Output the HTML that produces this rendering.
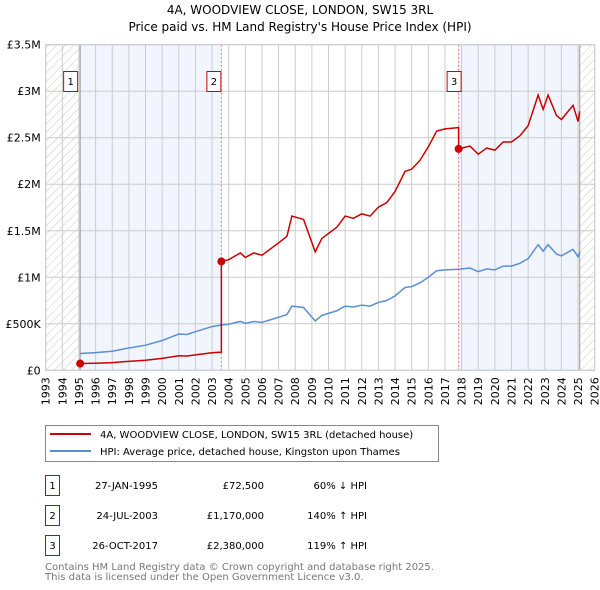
<!DOCTYPE html>
<html><head><meta charset="utf-8"><style>
body{margin:0;background:#fff;font-family:"DejaVu Sans","Liberation Sans",sans-serif;}
svg{display:block}
</style></head><body>
<svg id="c" width="600" height="590" xmlns="http://www.w3.org/2000/svg" font-family="DejaVu Sans, Liberation Sans, sans-serif">
<defs>
<pattern id="hatch" patternUnits="userSpaceOnUse" width="6" height="6" patternTransform="rotate(45)">
<line x1="0" y1="0" x2="0" y2="6" stroke="#bbb" stroke-width="0.8"/>
</pattern>
</defs>
<text x="300" y="14" text-anchor="middle" font-size="12">4A, WOODVIEW CLOSE, LONDON, SW15 3RL</text>
<text x="300" y="31" text-anchor="middle" font-size="12">Price paid vs. HM Land Registry's House Price Index (HPI)</text>
<g id="plot"></g>
<g>
<rect x="45.5" y="425.5" width="393" height="36" fill="#fff" stroke="#888"/>
<line x1="50" y1="434" x2="91" y2="434" stroke="#cc0000" stroke-width="2"/>
<text x="100" y="438" font-size="10">4A, WOODVIEW CLOSE, LONDON, SW15 3RL (detached house)</text>
<line x1="50" y1="451" x2="91" y2="451" stroke="#5b8fd4" stroke-width="2"/>
<text x="100" y="455" font-size="10">HPI: Average price, detached house, Kingston upon Thames</text>
</g>
<g font-size="10">
<rect x="45.5" y="475.5" width="14" height="20" fill="#fff" stroke="#cc0000"/><text x="52.5" y="489" text-anchor="middle">1</text>
<text x="158" y="489" text-anchor="end">27-JAN-1995</text><text x="264" y="489" text-anchor="end">£72,500</text><text x="367" y="489" text-anchor="end">60% ↓ HPI</text>
<rect x="45.5" y="505.5" width="14" height="20" fill="#fff" stroke="#cc0000"/><text x="52.5" y="519" text-anchor="middle">2</text>
<text x="158" y="519" text-anchor="end">24-JUL-2003</text><text x="264" y="519" text-anchor="end">£1,170,000</text><text x="367" y="519" text-anchor="end">140% ↑ HPI</text>
<rect x="45.5" y="535.5" width="14" height="20" fill="#fff" stroke="#cc0000"/><text x="52.5" y="549" text-anchor="middle">3</text>
<text x="158" y="549" text-anchor="end">26-OCT-2017</text><text x="264" y="549" text-anchor="end">£2,380,000</text><text x="367" y="549" text-anchor="end">119% ↑ HPI</text>
</g>
<text x="45" y="570" font-size="10" fill="#777">Contains HM Land Registry data © Crown copyright and database right 2025.</text>
<text x="45" y="580" font-size="10" fill="#777">This data is licensed under the Open Government Licence v3.0.</text>
</svg>
<script>
const hpiYears=[1995.07,1996,1997,1998,1999,2000,2001,2001.5,2002,2003,2003.56,2004,2004.7,2005,2005.5,2006,2007,2007.5,2007.8,2008.5,2009.2,2009.6,2010.5,2011,2011.5,2012,2012.5,2013,2013.5,2014,2014.6,2015,2015.5,2016,2016.5,2017,2017.82,2018.5,2019,2019.5,2020,2020.5,2021,2021.5,2022,2022.6,2022.9,2023.2,2023.7,2024,2024.7,2025,2025.1];
const hpiValues=[181000,190000,205000,240000,270000,320000,390000,385000,415000,470000,487000,495000,525000,505000,525000,515000,570000,600000,690000,675000,530000,590000,640000,690000,680000,700000,690000,730000,750000,800000,890000,900000,940000,1000000,1070000,1080000,1086000,1100000,1060000,1090000,1080000,1120000,1120000,1150000,1200000,1350000,1280000,1350000,1250000,1230000,1300000,1220000,1270000];
const saleYears=[1995.07,2003.56,2017.82];
const salePrices=[72500,1170000,2380000];
const saleLabels=["1","2","3"];
const yTicks=[0,500000,1000000,1500000,2000000,2500000,3000000,3500000];
const yTickLabels=["£0","£500K","£1M","£1.5M","£2M","£2.5M","£3M","£3.5M"];
const NS="http://www.w3.org/2000/svg";
const X0=45.7,X1=594.7,Y0=370.3,Y1=44.7,XMIN=1993,XMAX=2026,YMAX=3500000;
const xs=v=>X0+(v-XMIN)/(XMAX-XMIN)*(X1-X0);
const ys=v=>Y0-v/YMAX*(Y0-Y1);
const g=document.getElementById('plot');
function mk(t,a){const e=document.createElementNS(NS,t);for(const k in a)e.setAttribute(k,a[k]);g.appendChild(e);return e;}
// hatch areas
let e=mk('rect',{x:X0,y:Y1,width:xs(saleYears[0])-X0,height:Y0-Y1,fill:'url(#hatch)'});


const endY=hpiYears[hpiYears.length-1];
e=mk('rect',{x:xs(endY),y:Y1,width:X1-xs(endY),height:Y0-Y1,fill:'url(#hatch)'});


// shaded periods
e=mk('rect',{x:xs(saleYears[0]),y:Y1,width:xs(saleYears[1])-xs(saleYears[0]),height:Y0-Y1,fill:'#eef2fc',opacity:0.8});


e=mk('rect',{x:xs(saleYears[2]),y:Y1,width:xs(endY)-xs(saleYears[2]),height:Y0-Y1,fill:'#eef2fc',opacity:0.8});


// grid
for(let yr=XMIN;yr<=XMAX;yr++){
 e=mk('line',{x1:xs(yr),x2:xs(yr),y1:Y1,y2:Y0,stroke:'#ccc','stroke-width':1});
 
 
 e=mk('text',{x:0,y:0,'font-size':11,'text-anchor':'end',transform:`translate(${xs(yr)+4},${Y0+7}) rotate(-90)`});
 e.textContent=yr;
 
 
}
yTicks.forEach((v,i)=>{
 e=mk('line',{x1:X0,x2:X1,y1:ys(v),y2:ys(v),stroke:'#ccc','stroke-width':1});
 
 
 e=mk('text',{x:X0-5,y:ys(v)+4,'font-size':11,'text-anchor':'end'});
 e.textContent=yTickLabels[i];
 
 
});
e=mk('line',{x1:xs(saleYears[0]),x2:xs(saleYears[0]),y1:Y1,y2:Y0,stroke:'#999','stroke-width':1});


e=mk('line',{x1:xs(endY),x2:xs(endY),y1:Y1,y2:Y0,stroke:'#999','stroke-width':1});


for(let i=1;i<saleYears.length;i++){
 e=mk('line',{x1:xs(saleYears[i]),x2:xs(saleYears[i]),y1:Y1,y2:Y0,stroke:'#f07070','stroke-width':1,'stroke-dasharray':'2,2'});
 
 
}
// HPI interpolation for ratio
function hpiAt(t){for(let i=0;i<hpiYears.length-1;i++){if(t<=hpiYears[i+1]){const f=(t-hpiYears[i])/(hpiYears[i+1]-hpiYears[i]);return hpiValues[i]+f*(hpiValues[i+1]-hpiValues[i]);}}return hpiValues[hpiValues.length-1];}
// HPI line
e=mk('polyline',{points:hpiYears.map((t,i)=>xs(t)+','+ys(hpiValues[i])).join(' '),fill:'none',stroke:'#5b8fd4','stroke-width':1.5});


// property line
const pts=[];
for(let s=0;s<saleYears.length;s++){
 const r=salePrices[s]/hpiAt(saleYears[s]);
 const end=s+1<saleYears.length?saleYears[s+1]:endY+1;
 pts.push([saleYears[s],salePrices[s]]);
 hpiYears.forEach((t,i)=>{if(t>saleYears[s]&&t<end)pts.push([t,hpiValues[i]*r]);});
 if(s+1<saleYears.length)pts.push([saleYears[s+1],hpiAt(saleYears[s+1])*r]);
}
e=mk('polyline',{points:pts.map(p=>xs(p[0])+','+ys(p[1])).join(' '),fill:'none',stroke:'#cc0000','stroke-width':1.5});


saleYears.forEach((t,i)=>{
 e=mk('circle',{cx:xs(t),cy:ys(salePrices[i]),r:4,fill:'#cc0000'});
 
 
 const bx=xs(t)-(i==0?16:i==1?14:11);
 e=mk('rect',{x:bx-0.5,y:71.5,width:14,height:20,fill:'#fff',stroke:'#cc0000'});
 
 
 e=mk('text',{x:bx+6.5,y:85,'font-size':10,'text-anchor':'middle'});
 e.textContent=saleLabels[i];
 
 
});
e=mk('rect',{x:X0,y:Y1,width:X1-X0,height:Y0-Y1,fill:'none',stroke:'#ccc'});


</script>
</body></html>
